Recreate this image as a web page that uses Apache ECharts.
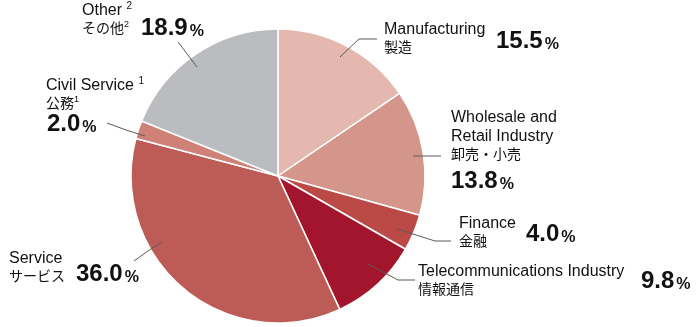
<!DOCTYPE html>
<html>
<head>
<meta charset="utf-8">
<script src="https://cdn.jsdelivr.net/npm/echarts@6/dist/echarts.min.js"></script>
<style>
html,body{margin:0;padding:0;background:#fff;}
#c{width:700px;height:327px;}
</style>
</head>
<body>
<div id="c"></div>
<script>
// ---- data ----
const categories = ['Manufacturing', 'Wholesale and\nRetail Industry', 'Finance', 'Telecommunications Industry', 'Service', 'Civil Service', 'Other'];
const categoriesJa = ['製造', '卸売・小売', '金融', '情報通信', 'サービス', '公務', 'その他'];
const notes = ['', '', '', '', '', '1', '2'];
const values = [15.5, 13.8, 4.0, 9.8, 36.0, 2.0, 18.9];

// ---- styling / layout ----
const colors = ['#e4b8ae', '#d4968b', '#bb4a47', '#a3152c', '#bd5b56', '#cf8077', '#bbbcc0'];
const nameLabelPos = [[384, 20], [451, 108], [459, 214], [418, 262], [9, 249], [46, 76], [82, 1]];
const valueLabelPos = [[496, 29], [451, 169], [526, 222], [641, 269], [76, 262], [47, 112], [141, 16]];
const linePts = [
  [[340, 57], [359, 39], [377, 39]],
  [[413, 156], [427, 156], [441, 156]],
  [[397, 229], [435, 241], [451, 241]],
  [[368, 264], [398, 280], [415, 280]],
  [[162, 242], [148, 251], [134, 261]],
  [[145, 136], [126, 130], [107, 123]],
  [[197, 67], [188, 55], [178, 42]]
];

const FONT = "'Liberation Sans', Arial, 'Noto Sans CJK JP', sans-serif";
const pieData = values.map((v, i) => ({ name: categories[i], value: v, itemStyle: { color: colors[i] } }));
const valueData = values.map((v, i) => ({ name: categories[i], value: v }));

function nameFormatter(p) {
  const i = p.dataIndex;
  const en = categories[i].split('\n');
  const note = notes[i];
  let s = en.map((l, k) => '{a|' + l + (k === en.length - 1 && note ? ' ' : '') + '}' + (k === en.length - 1 && note ? '{s|' + note + '}' : '')).join('\n');
  s += '\n{c|' + categoriesJa[i] + '}' + (note ? '{t|' + note + '}' : '');
  return s;
}

const chart = echarts.init(document.getElementById('c'), null, { renderer: 'canvas' });
chart.setOption({
  animation: false,
  backgroundColor: '#fff',
  series: [
    {
      type: 'pie',
      center: [278, 176],
      radius: [0, 147],
      startAngle: 90,
      clockwise: true,
      avoidLabelOverlap: false,
      silent: true,
      data: pieData,
      itemStyle: { borderColor: '#fff', borderWidth: 1.5 },
      label: {
        show: true,
        position: 'outside',
        formatter: nameFormatter,
        fontFamily: FONT,
        color: '#111',
        rich: {
          a: { fontSize: 16, lineHeight: 19, fontFamily: FONT, color: '#111' },
          c: { fontSize: 14, lineHeight: 19, fontFamily: FONT, color: '#111' },
          s: { fontSize: 10, lineHeight: 14, verticalAlign: 'top', fontFamily: FONT, color: '#111' },
          t: { fontSize: 9, lineHeight: 14, verticalAlign: 'top', fontFamily: FONT, color: '#111' }
        }
      },
      labelLine: { show: false },
      labelLayout: function (p) {
        const i = p.dataIndex;
        return { x: nameLabelPos[i][0], y: nameLabelPos[i][1], align: 'left', verticalAlign: 'top' };
      }
    },
    {
      type: 'pie',
      center: [278, 176],
      radius: [0, 147],
      startAngle: 90,
      clockwise: true,
      avoidLabelOverlap: false,
      silent: true,
      z: 5,
      data: valueData,
      itemStyle: { color: 'rgba(0,0,0,0)', borderWidth: 0 },
      label: {
        show: true,
        position: 'outside',
        formatter: p => '{v|' + p.value.toFixed(1) + '}{p|%}',
        rich: {
          v: { fontSize: 24, fontWeight: 'bold', lineHeight: 24, fontFamily: FONT, color: '#111' },
          p: { fontSize: 16, fontWeight: 'bold', lineHeight: 18, verticalAlign: 'bottom', padding: [0, 0, 0, 2], fontFamily: FONT, color: '#111' }
        }
      },
      labelLine: { show: true, smooth: false, lineStyle: { color: '#5a5a5a', width: 1 } },
      labelLayout: function (p) {
        const i = p.dataIndex;
        return { x: valueLabelPos[i][0], y: valueLabelPos[i][1], align: 'left', verticalAlign: 'top', labelLinePoints: linePts[i] };
      }
    }
  ]
});
</script>
</body>
</html>
